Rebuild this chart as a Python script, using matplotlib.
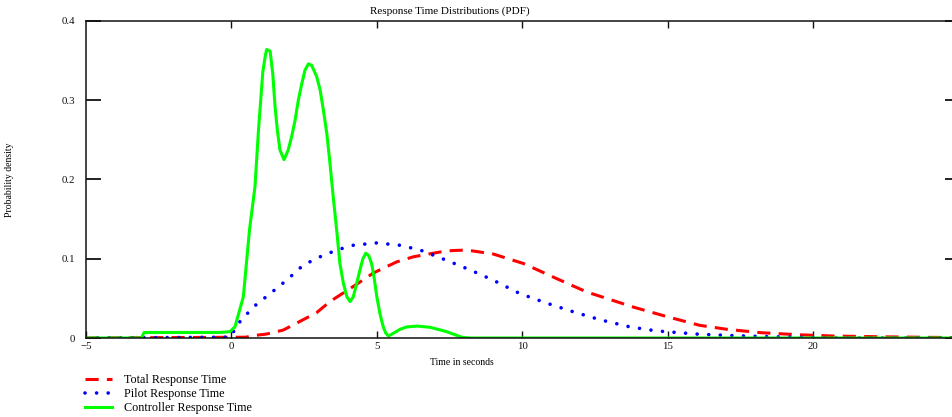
import matplotlib
matplotlib.use("Agg")
import matplotlib.pyplot as plt

plt.rcParams['font.family'] = ['Liberation Serif', 'DejaVu Serif']
plt.rcParams['axes.unicode_minus'] = True

# ---- data ----
total_x = [-5, 0.5, 0.75, 1.21, 1.78, 2.36, 2.93, 3.39, 4.19, 4.88, 5.68, 6.26, 7.40, 8.09,
           9.0, 10.04, 11.3, 12.22, 12.9, 13.82, 14.97, 16.1, 17.03, 18.2, 19.55, 20.7,
           22.4, 24.0, 24.8]
total_y = [0, 0.001, 0.003, 0.005, 0.010, 0.021, 0.032, 0.046, 0.065, 0.082, 0.096, 0.1025,
           0.110, 0.111, 0.106, 0.094, 0.073, 0.058, 0.050, 0.039, 0.027, 0.016, 0.011,
           0.0067, 0.004, 0.0025, 0.0015, 0.0008, 0.0006]

pilot_x = [-5, -0.05, 0.30, 0.75, 1.33, 1.90, 2.47, 3.05, 3.62, 4.19, 5.0, 5.80, 6.49, 7.40,
           8.2, 9.0, 9.92, 10.84, 11.76, 12.68, 13.7, 14.6, 15.3, 16.1, 17.26, 18.4, 19.6,
           20.5, 24.8]
pilot_y = [0, 0.001, 0.021, 0.039, 0.056, 0.073, 0.092, 0.1025, 0.111, 0.117, 0.120, 0.117,
           0.111, 0.098, 0.086, 0.073, 0.056, 0.044, 0.033, 0.023, 0.014, 0.009, 0.007,
           0.0047, 0.003, 0.0017, 0.001, 0, 0]

ctrl_x = [-5, -3.1, -3.0, -0.4, -0.05, 0.12, 0.41, 0.62, 0.81, 0.93, 1.08, 1.16, 1.21, 1.33,
          1.42, 1.50, 1.58, 1.67, 1.81, 1.95, 2.07, 2.19, 2.30, 2.42, 2.53, 2.65, 2.76, 2.93,
          3.05, 3.16, 3.28, 3.39, 3.50, 3.62, 3.73, 3.85, 3.97, 4.08, 4.19, 4.30, 4.42, 4.52,
          4.62, 4.72, 4.82, 4.91, 5.0, 5.11, 5.22, 5.31, 5.40, 5.57, 5.8, 6.03, 6.4, 6.83,
          7.40, 7.92, 8.2, 24.8]
ctrl_y = [0, 0, 0.007, 0.007, 0.008, 0.014, 0.052, 0.136, 0.191, 0.262, 0.336, 0.355, 0.364,
          0.362, 0.334, 0.292, 0.262, 0.237, 0.225, 0.237, 0.254, 0.275, 0.300, 0.321, 0.338,
          0.346, 0.344, 0.330, 0.313, 0.288, 0.258, 0.220, 0.178, 0.136, 0.094, 0.069, 0.052,
          0.046, 0.052, 0.068, 0.086, 0.100, 0.107, 0.104, 0.094, 0.075, 0.052, 0.030, 0.014,
          0.006, 0.0025, 0.006, 0.011, 0.014, 0.015, 0.0135, 0.008, 0.001, 0, 0]

labels = ["Total Response Time", "Pilot Response Time", "Controller Response Time"]
x_ticks = [-5, 0, 5, 10, 15, 20]
x_ticklabels = ["\u22125", "0", "5", "10", "15", "20"]
y_ticks = [0, 0.1, 0.2, 0.3, 0.4]
y_ticklabels = ["0", "0.1", "0.2", "0.3", "0.4"]

W, H = 953, 417
fig = plt.figure(figsize=(W / 100, H / 100), dpi=100)
left_px, right_px, top_px, bot_px = 86, 953, 21, 338
ax = fig.add_axes([left_px / W, 1 - bot_px / H, (right_px - left_px) / W, (bot_px - top_px) / H])

lw = 2.2
l1, = ax.plot(total_x, total_y, color='#ff0000', lw=lw, linestyle=(0, (4.3, 2.7)),
              dash_capstyle='butt', label=labels[0])
l2, = ax.plot(pilot_x, pilot_y, color='#0000ff', lw=2.6, linestyle=(0, (0.01, 3.2)),
              dash_capstyle='round', label=labels[1])
l3, = ax.plot(ctrl_x, ctrl_y, color='#00ff00', lw=lw, label=labels[2])

ax.set_xlim(-5, 24.81)
ax.set_ylim(0, 0.4)

ax.set_xticks(x_ticks)
ax.set_xticklabels(x_ticklabels)
ax.set_yticks(y_ticks)
ax.set_yticklabels(y_ticklabels)

px2pt = 0.72
ax.tick_params(axis='x', direction='in', length=7 * px2pt, width=1.0, top=True,
               labelsize=7.8, colors='#111111', pad=3)
ax.tick_params(axis='y', direction='in', length=15 * px2pt, width=1.3, right=True,
               labelsize=7.8, colors='#111111', pad=8)
for t in ax.yaxis.get_major_ticks():
    t.tick2line.set_markersize(8 * px2pt)
for t in ax.xaxis.get_major_ticks()[:1]:
    t.tick2line.set_visible(False)

for s in ['left', 'top', 'bottom']:
    ax.spines[s].set_linewidth(1.1)
    ax.spines[s].set_color('#111111')
ax.spines['right'].set_visible(False)

ax.set_title("Response Time Distributions (PDF)", fontsize=8, x=(450 - left_px) / (right_px - left_px),
             pad=5.5)
ax.set_xlabel("Time in seconds", fontsize=7)
ax.xaxis.set_label_coords((462 - left_px) / (right_px - left_px), (bot_px - 358) / (bot_px - top_px))
ax.set_ylabel("Probability density", fontsize=7)
ax.yaxis.set_label_coords((14 - left_px) / (right_px - left_px), 0.5)

fig.legend(handles=[l1, l2, l3], labels=labels, loc='upper left',
           bbox_to_anchor=(85 / W, 1 - 374 / H), frameon=False, fontsize=8.7,
           handlelength=2.2, handletextpad=1.0, labelspacing=0.18, borderpad=0,
           borderaxespad=0)

fig.savefig("out.png", dpi=100)
